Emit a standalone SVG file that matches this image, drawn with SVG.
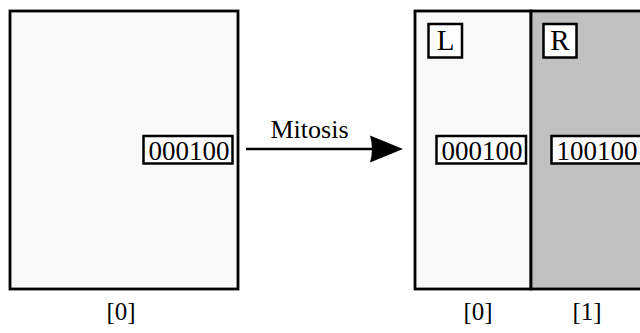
<svg xmlns="http://www.w3.org/2000/svg" width="640" height="333" viewBox="0 0 640 333">
<style>
.cell{stroke:#000;stroke-width:2.8}
.tag{fill:#fff;stroke:#000;stroke-width:2.5}
</style>
<rect width="640" height="333" fill="#fff"/>
<g font-family="Liberation Serif, Times New Roman, serif" font-size="25" text-anchor="middle" fill="#000">
<g id="cell-before">
<rect class="cell" x="10" y="11" width="228" height="278" fill="#f9f9f9"/>
<rect class="tag" x="143.5" y="136" width="89" height="27.5"/>
<text x="189" y="159.5" font-size="27">000100</text>
<text x="121" y="320">[0]</text>
</g>
<g id="cell-left">
<rect class="cell" x="415" y="11" width="116" height="278" fill="#f9f9f9"/>
<rect class="tag" x="428.5" y="24" width="33.5" height="33.5"/>
<text x="445.5" y="49.5" font-size="29">L</text>
<rect class="tag" x="436.5" y="136" width="89.5" height="27.5"/>
<text x="482" y="159.5" font-size="27">000100</text>
<text x="478" y="320">[0]</text>
</g>
<g id="cell-right">
<rect class="cell" x="531" y="11" width="120" height="278" fill="#c0c0c0"/>
<rect class="tag" x="543.5" y="24" width="33" height="33.5"/>
<text x="560" y="49.5" font-size="29">R</text>
<rect class="tag" x="551.5" y="136" width="95" height="27.5"/>
<text x="597" y="159.5" font-size="27">100100</text>
<text x="587" y="320">[1]</text>
</g>
<g id="connectors">
<line x1="246" y1="149" x2="372" y2="149" stroke="#000" stroke-width="2.5"/>
<path d="M370,135.5 L403,149 L370,162.5 Q374,149 370,135.5 Z" fill="#000"/>
<text x="309.5" y="138" font-size="26">Mitosis</text>
</g>
</g>
</svg>
